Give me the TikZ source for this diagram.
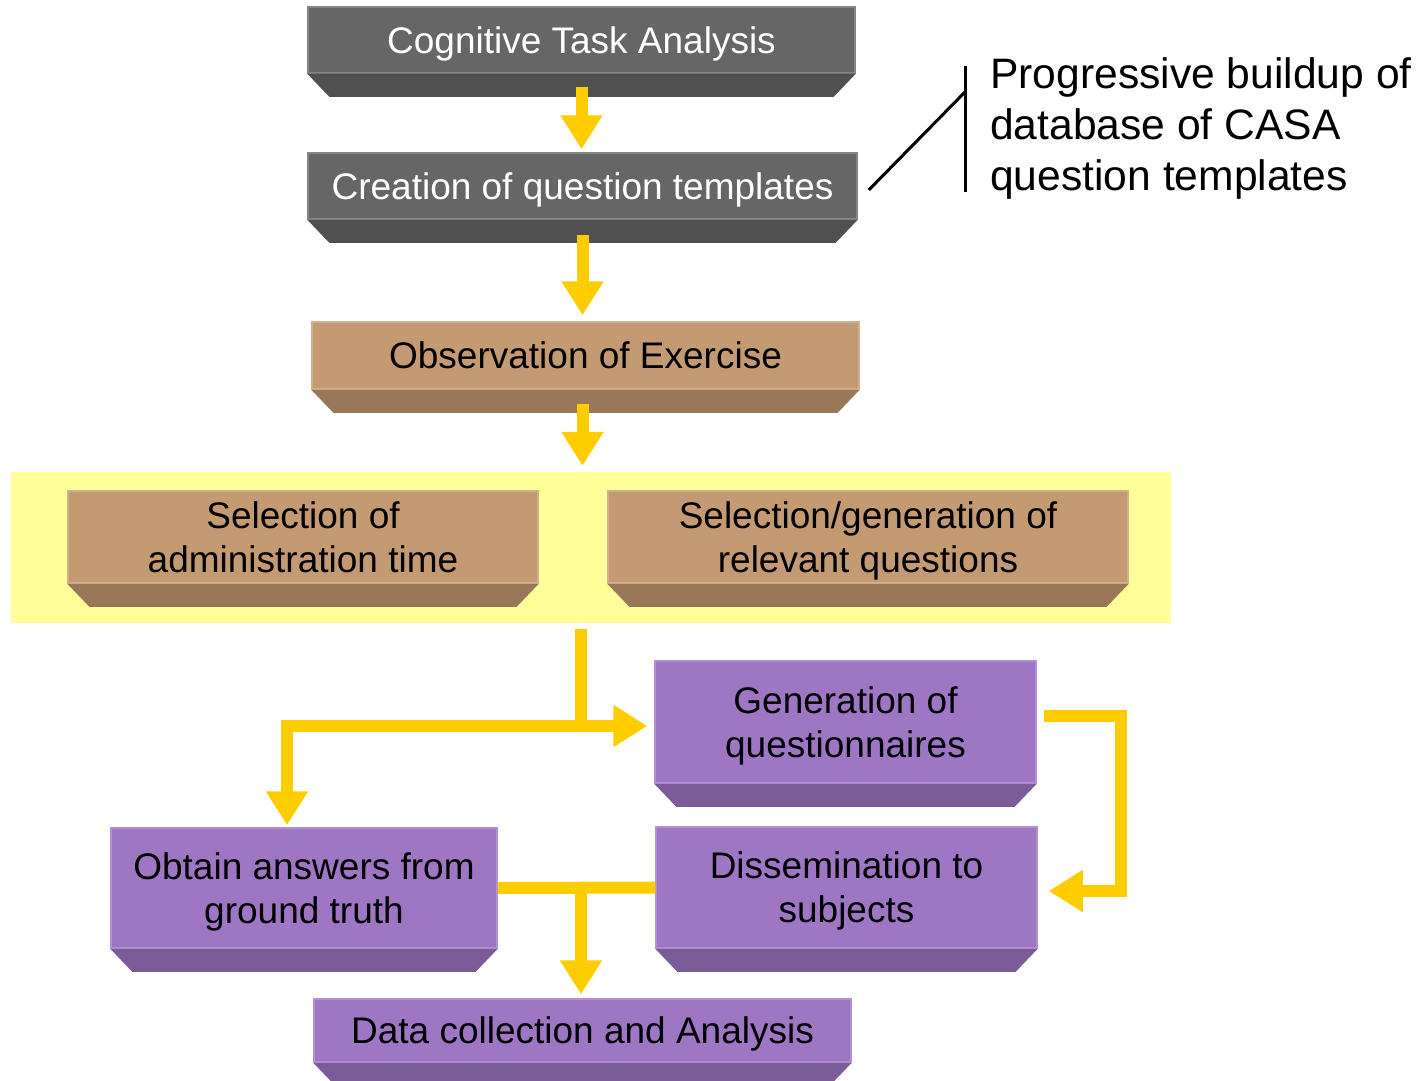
\documentclass[tikz,border=0pt]{standalone}
\usepackage{fontspec}
\setmainfont{Liberation Sans}
\usetikzlibrary{arrows.meta}
\definecolor{slate}{HTML}{666666}
\definecolor{clay}{HTML}{C49A72}
\definecolor{lilac}{HTML}{9E76C4}
\definecolor{pale}{HTML}{FFFF99}
\definecolor{amber}{HTML}{FFCC00}
\tikzset{
  slab/.style={fill=#1, draw=#1!80!white, line width=1.5pt, inner sep=0pt, align=center,
    text depth=0pt, font=\fontsize{37}{44}\selectfont},
  pipe/.style={amber, line width=12pt},
  flow/.style={pipe, -{Triangle[length=34pt,width=40pt]}},
}
\begin{document}
\begin{tikzpicture}[x=1pt,y=-1pt]
  \useasboundingbox (0,0) rectangle (1422,1081);
  \node[fill=pale, minimum width=1160pt, minimum height=151pt] (pick) at (591,547.5) {};
%
  \node[slab=slate, text=white, minimum width=547pt, minimum height=66pt] (cta) at (581.5,40) {Cognitive Task Analysis};
  \node[slab=slate, text=white, minimum width=549pt, minimum height=66pt] (cqt) at (582.5,186) {Creation of question templates};
  \node[slab=clay, minimum width=547pt, minimum height=67pt] (obs) at (585.5,355.5) {Observation of Exercise};
  \node[slab=clay, minimum width=470pt, minimum height=92pt] (sat) at (303,537) {Selection of\\administration time};
  \node[slab=clay, minimum width=520pt, minimum height=92pt] (sgq) at (868,537) {Selection/generation of\\relevant questions};
  \node[slab=lilac, minimum width=381pt, minimum height=122pt] (gen) at (845.5,722) {Generation of\\questionnaires};
  \node[slab=lilac, minimum width=381pt, minimum height=121pt] (dis) at (846.5,887.5) {Dissemination to\\subjects};
  \node[slab=lilac, minimum width=386pt, minimum height=120pt] (obt) at (304,888) {Obtain answers from\\ground truth};
  \node[slab=lilac, minimum width=537pt, minimum height=63pt] (dca) at (582.5,1030.5) {Data collection and Analysis};
  \foreach \n/\col in {cta/slate,cqt/slate,obs/clay,sat/clay,sgq/clay,gen/lilac,dis/lilac,obt/lilac,dca/lilac}
    \fill[\col!78!black] (\n.south west) -- (\n.south east) -- ([shift={(-22pt,-23pt)}]\n.south east)
      -- ([shift={(22pt,-23pt)}]\n.south west) -- cycle;
%
  \draw[flow] ([yshift=-13pt]cta.south) -- ([yshift=3pt]cqt.north -| cta.south);
  \draw[flow] ([yshift=-15pt]cqt.south) -- ([yshift=6pt]obs.north -| cqt.south);
  \draw[flow] ([yshift=-14pt]obs.south -| cqt.south) -- ([yshift=6pt]pick.north -| cqt.south);
  \coordinate (split) at (581,726);
  \draw[pipe] ([yshift=-6pt]pick.south -| split) -- (split);
  \draw[flow] (split) -- ([xshift=-7pt]gen.west |- split);
  \draw[flow] (split) -| ([shift={(-17pt,2pt)}]obt.north);
  \coordinate (bend) at (1121,891);
  \draw[flow] ([shift={(7pt,6pt)}]gen.east) -| (bend) -- ([xshift=11pt]dis.east |- bend);
  \draw[pipe] (obt.east) -- (dis.west);
  \draw[flow] (split |- obt.east) -- ([yshift=4pt]dca.north -| split);
%
  \coordinate (bartop) at (965,66);
  \coordinate (barend) at (965,192);
  \coordinate (hinge) at (965,92);
  \draw[line width=3pt] (bartop) -- (barend);
  \draw[line width=3pt] ([shift={(11pt,-4pt)}]cqt.east) -- (hinge);
  \node[anchor=north west, inner sep=0pt, align=left, font=\fontsize{42.6}{51}\selectfont] (note) at (990,57)
    {Progressive buildup of\\database of CASA\\question templates};
\end{tikzpicture}
\end{document}
